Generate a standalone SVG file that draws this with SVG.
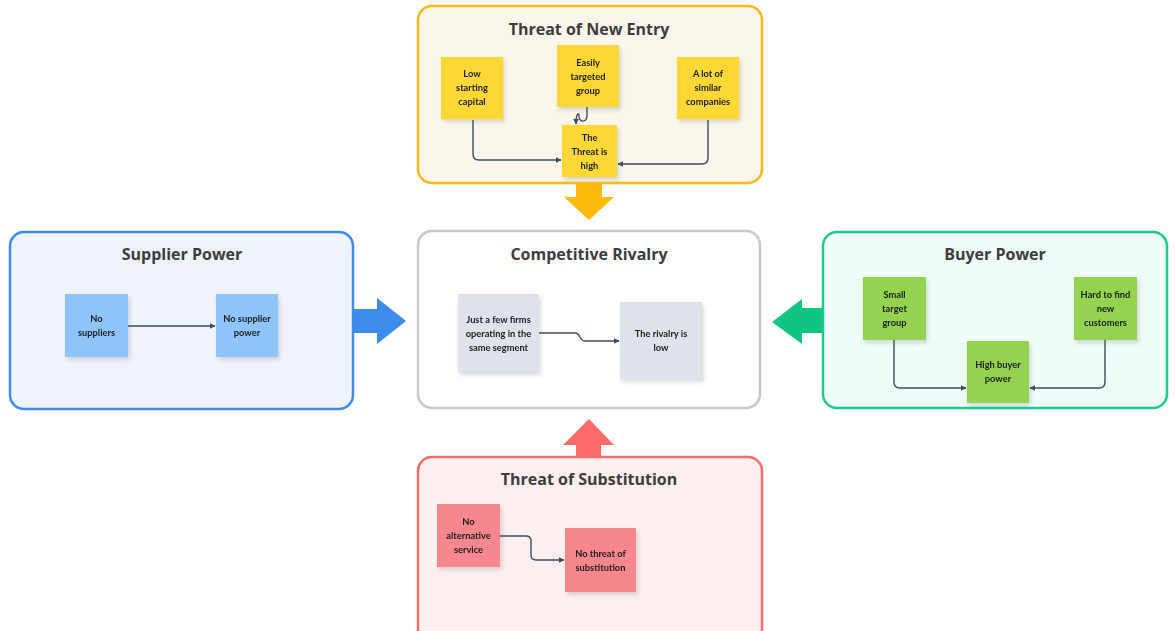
<svg xmlns="http://www.w3.org/2000/svg" width="1175" height="631" viewBox="0 0 1175 631">
<defs>
<style>
.title{font-family:"Open Sans","Liberation Sans",sans-serif;font-weight:700;font-size:16px;fill:#3d3d3d;text-anchor:middle}
.nt{font-family:Lato,"Liberation Sans",sans-serif;font-weight:700;font-size:9.3px;fill:#1c1c1c;text-anchor:middle}
.conn{fill:none;stroke:#3b4e60;stroke-width:1.4}
.note{filter:url(#sh)}
</style>
<filter id="sh" x="-20%" y="-20%" width="150%" height="150%">
<feDropShadow dx="2" dy="3" stdDeviation="2" flood-color="#000" flood-opacity="0.14"/>
</filter>
<marker id="ah" viewBox="0 0 10 10" refX="9" refY="5" markerWidth="6" markerHeight="6" markerUnits="userSpaceOnUse" orient="auto">
<path d="M0,0 L10,5 L0,10 Z" fill="#3b4e60"/>
</marker>
</defs>
<rect width="1175" height="631" fill="#ffffff"/>

<!-- big arrows -->
<g id="big-arrows">
<path d="M576,183 H602 V197 H614 L589,220 L564,197 H576 Z" fill="#FDBA0B"/>
<path d="M353,309 H377 V298 L406,321 L377,344 V333 H353 Z" fill="#3D8BEA"/>
<path d="M823,308 H802 V299 L772,322 L802,344 V333 H823 Z" fill="#10C581"/>
<path d="M576,457 H601 V445 H614 L589,419 L563,445 H576 Z" fill="#FF6B6B"/>
</g>

<g id="threat-new-entry">
<rect x="418" y="6" width="344" height="177" rx="14" fill="#FBF6EC" stroke="#FBB917" stroke-width="2.5"/>
<text class="title" x="589" y="35">Threat of New Entry</text>
</g>
<g id="n-low-capital" class="note">
<rect x="441" y="57" width="62" height="62" fill="#FDD835"/>
<text class="nt" x="472" y="77">Low</text><text class="nt" x="472" y="91">starting</text><text class="nt" x="472" y="105">capital</text>
</g>
<g id="n-easily" class="note">
<rect x="557" y="45" width="62" height="62" fill="#FDD835"/>
<text class="nt" x="588" y="66">Easily</text><text class="nt" x="588" y="80">targeted</text><text class="nt" x="588" y="94">group</text>
</g>
<g id="n-similar" class="note">
<rect x="677" y="57" width="62" height="62" fill="#FDD835"/>
<text class="nt" x="708" y="77">A lot of</text><text class="nt" x="708" y="91">similar</text><text class="nt" x="708" y="105">companies</text>
</g>
<g id="n-threat-high" class="note">
<rect x="562" y="125" width="55" height="52" fill="#FDD835"/>
<text class="nt" x="589.5" y="141">The</text><text class="nt" x="589.5" y="155">Threat is</text><text class="nt" x="589.5" y="169">high</text>
</g>

<g id="supplier-power">
<rect x="10" y="232" width="343" height="177" rx="14" fill="#EFF4FC" stroke="#3D8BEA" stroke-width="2.5"/>
<text class="title" x="182" y="260">Supplier Power</text>
</g>
<g id="n-no-suppliers" class="note">
<rect x="65" y="294" width="63" height="63" fill="#8FC4FB"/>
<text class="nt" x="96.5" y="322">No</text><text class="nt" x="96.5" y="336">suppliers</text>
</g>
<g id="n-no-supplier-power" class="note">
<rect x="216" y="294" width="62" height="63" fill="#8FC4FB"/>
<text class="nt" x="247" y="322">No supplier</text><text class="nt" x="247" y="336">power</text>
</g>

<g id="competitive-rivalry">
<rect x="418" y="231" width="342" height="177" rx="14" fill="#FFFFFF" stroke="#C8C8C8" stroke-width="2.5"/>
<text class="title" x="589" y="260">Competitive Rivalry</text>
</g>
<g id="n-few-firms" class="note">
<rect x="458" y="294" width="81" height="78" fill="#DEE2E9"/>
<text class="nt" x="498.5" y="323">Just a few firms</text><text class="nt" x="498.5" y="337">operating in the</text><text class="nt" x="498.5" y="351">same segment</text>
</g>
<g id="n-rivalry-low" class="note">
<rect x="620" y="302" width="82" height="77" fill="#DEE2E9"/>
<text class="nt" x="661" y="337">The rivalry is</text><text class="nt" x="661" y="351">low</text>
</g>

<g id="buyer-power">
<rect x="823" y="232" width="344" height="176" rx="14" fill="#F0FCF8" stroke="#20C98A" stroke-width="2.5"/>
<text class="title" x="995" y="260">Buyer Power</text>
</g>
<g id="n-small-target" class="note">
<rect x="863" y="277" width="63" height="63" fill="#93D34F"/>
<text class="nt" x="894.5" y="298">Small</text><text class="nt" x="894.5" y="312">target</text><text class="nt" x="894.5" y="326">group</text>
</g>
<g id="n-hard-to-find" class="note">
<rect x="1074" y="277" width="63" height="63" fill="#93D34F"/>
<text class="nt" x="1105.5" y="298">Hard to find</text><text class="nt" x="1105.5" y="312">new</text><text class="nt" x="1105.5" y="326">customers</text>
</g>
<g id="n-high-buyer" class="note">
<rect x="967" y="341" width="62" height="62" fill="#93D34F"/>
<text class="nt" x="998" y="368">High buyer</text><text class="nt" x="998" y="382">power</text>
</g>

<g id="threat-substitution">
<rect x="418" y="457" width="344" height="190" rx="14" fill="#FBEFEF" stroke="#F56C6C" stroke-width="2.5"/>
<text class="title" x="589" y="485">Threat of Substitution</text>
</g>
<g id="n-no-alternative" class="note">
<rect x="437" y="504" width="63" height="63" fill="#F7878F"/>
<text class="nt" x="468.5" y="525">No</text><text class="nt" x="468.5" y="539">alternative</text><text class="nt" x="468.5" y="553">service</text>
</g>
<g id="n-no-threat-sub" class="note">
<rect x="565" y="528" width="71" height="64" fill="#F7878F"/>
<text class="nt" x="600.5" y="557">No threat of</text><text class="nt" x="600.5" y="571">substitution</text>
</g>

<g id="connectors">
<path class="conn" d="M473,120 V154 Q473,160 479,160 H561" marker-end="url(#ah)"/>
<path class="conn" d="M708,120 V158 Q708,164 702,164 H618" marker-end="url(#ah)"/>
<path class="conn" d="M587,107 V115 C587,123 579,123 579,116 C579,112 576,113 576,124" marker-end="url(#ah)"/>
<path class="conn" d="M128,326 H215" marker-end="url(#ah)"/>
<path class="conn" d="M539,333 H575 C581,333 579,341 585,341 H619" marker-end="url(#ah)"/>
<path class="conn" d="M894,340 V382 Q894,388 900,388 H966" marker-end="url(#ah)"/>
<path class="conn" d="M1105,340 V382 Q1105,388 1099,388 H1030" marker-end="url(#ah)"/>
<path class="conn" d="M500,536 H526 Q531,536 531,541 V555 Q531,560 536,560 H564" marker-end="url(#ah)"/>
</g>
</svg>
